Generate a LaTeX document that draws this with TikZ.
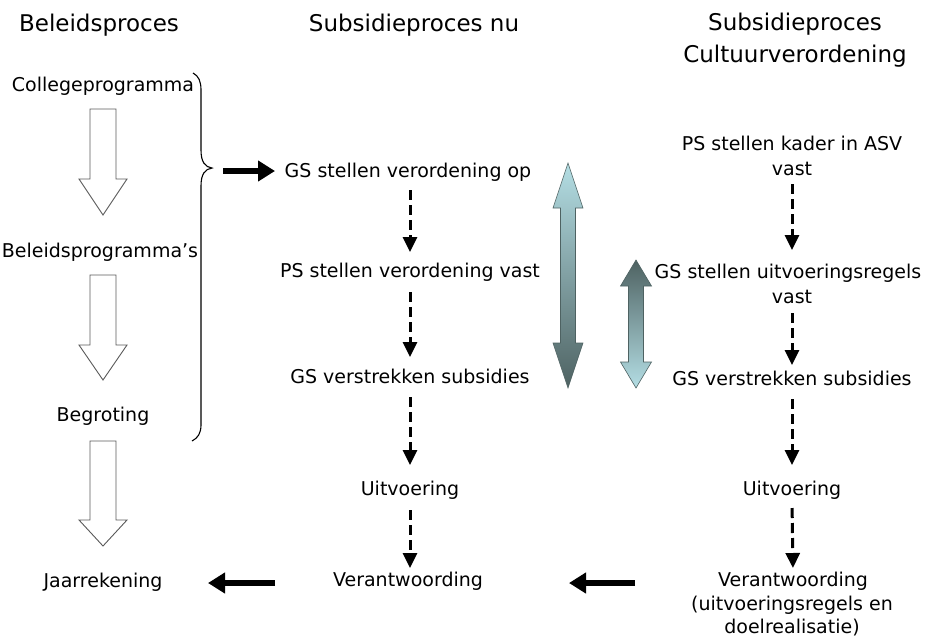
\documentclass[tikz,border=0pt]{standalone}
\usepackage{fontspec}
\setmainfont{DejaVu Sans}
\usetikzlibrary{arrows.meta}
\definecolor{lightc}{RGB}{180,222,228}
\definecolor{darkc}{RGB}{78,98,98}
\definecolor{hollowc}{RGB}{90,90,90}
\begin{document}
\begin{tikzpicture}[x=1pt,y=-1pt,
  txt/.style={font=\fontsize{19}{23}\selectfont, inner sep=0pt, outer sep=0pt, text height=14pt, text depth=5pt, anchor=base},
  ttl/.style={font=\fontsize{23}{28}\selectfont, inner sep=0pt, outer sep=0pt, anchor=base},
  dsh/.style={line width=3pt, dash pattern=on 10pt off 5pt, -{Triangle[length=15pt,width=14pt]}},
  thick arrow/.style={line width=6pt, -{Triangle[length=17pt,width=20pt]}},
  hollow/.style={draw=hollowc, line width=0.9pt, fill=white},
  grad/.style={draw=darkc, line width=0.6pt}
]
\useasboundingbox (0,0) rectangle (931,641);

% titles
\node[ttl] (t1) at (99,31) {Beleidsproces};
\node[ttl] (t2) at (414,31) {Subsidieproces nu};
\node[ttl] (t3) at (795,30) {Subsidieproces};
\node[ttl] (t4) at (795,62) {Cultuurverordening};

% left column
\node[txt] (coll) at (103,91) {Collegeprogramma};
\node[txt] (bel) at (100,257) {Beleidsprogramma's};
\node[txt] (begr) at (103,421) {Begroting};
\node[txt] (jaar) at (103,587) {Jaarrekening};

% middle column
\node[txt] (m1) at (408,177) {GS stellen verordening op};
\node[txt] (m2) at (410,277) {PS stellen verordening vast};
\node[txt] (m3) at (410,383) {GS verstrekken subsidies};
\node[txt] (m4) at (410,495) {Uitvoering};
\node[txt] (m5) at (408,586) {Verantwoording};

% right column
\node[txt] (r1a) at (792,150) {PS stellen kader in ASV};
\node[txt] (r1b) at (792,175) {vast};
\node[txt] (r2a) at (788,278) {GS stellen uitvoeringsregels};
\node[txt] (r2b) at (792,303) {vast};
\node[txt] (r3) at (792,385) {GS verstrekken subsidies};
\node[txt] (r4) at (792,495) {Uitvoering};
\node[txt] (r5a) at (793,586) {Verantwoording};
\node[txt] (r5b) at (792,610) {(uitvoeringsregels en};
\node[txt] (r5c) at (792,633) {doelrealisatie)};

% hollow arrows (left column)
\draw[hollow] (90,109) -- (116,109) -- (116,179) -- (127,179) -- (103,215) -- (79,179) -- (90,179) -- cycle;
\draw[hollow] (90,275) -- (116,275) -- (116,345) -- (127,345) -- (103,380) -- (79,345) -- (90,345) -- cycle;
\draw[hollow] (90,441) -- (116,441) -- (116,520) -- (127,520) -- (103,546) -- (79,520) -- (90,520) -- cycle;

% brace
\draw[line width=1.1pt] (193,73) .. controls (199,76) and (201,82) .. (201,90) -- (201,150)
  .. controls (201,162) and (205,167) .. (212,168)
  .. controls (205,169) and (201,174) .. (201,186) -- (201,425)
  .. controls (201,433) and (198,438) .. (192,441);
\coordinate (brtip) at (212,168);

% thick black arrows
\coordinate (a1s) at (223,171);
\coordinate (a1e) at (275,171);
\draw[thick arrow] (a1s) -- (a1e);
\coordinate (a2s) at (275,583);
\coordinate (a2e) at (208,583);
\draw[thick arrow] (a2s) -- (a2e);
\coordinate (a3s) at (635,583);
\coordinate (a3e) at (569,583);
\draw[thick arrow] (a3s) -- (a3e);

% dashed arrows, middle
\draw[dsh, shorten <=8pt, shorten >=11pt] (m2.north |- m1.south) -- (m2.north);
\draw[dsh, shorten <=10pt, shorten >=12pt] (m2.south) -- (m3.north);
\draw[dsh, shorten <=9pt, shorten >=16pt] (m3.south) -- (m4.north);
\draw[dsh, shorten <=10pt, shorten >=4pt] (m4.south) -- (m4.south |- m5.north);

% dashed arrows, right
\draw[dsh, shorten <=4pt, shorten >=14pt] (r1b.south) -- (r1b.south |- r2a.north);
\draw[dsh, shorten <=5pt, shorten >=6pt] (r2b.south) -- (r3.north);
\draw[dsh, shorten <=9pt, shorten >=16pt] (r3.south) -- (r4.north);
\draw[dsh, shorten <=8pt, shorten >=4pt] (r4.south) -- (r5a.north);

% gradient double arrows
\shade[grad, top color=lightc, bottom color=darkc]
  (568,163) -- (583,208) -- (575.5,208) -- (575.5,343) -- (583,343) -- (568,388)
  -- (553,343) -- (560.5,343) -- (560.5,208) -- (553,208) -- cycle;
\shade[grad, top color=darkc, bottom color=lightc]
  (636,260) -- (651.5,286) -- (643.5,286) -- (643.5,362) -- (651.5,362) -- (636,388)
  -- (620.5,362) -- (628.5,362) -- (628.5,286) -- (620.5,286) -- cycle;
\end{tikzpicture}
\end{document}
